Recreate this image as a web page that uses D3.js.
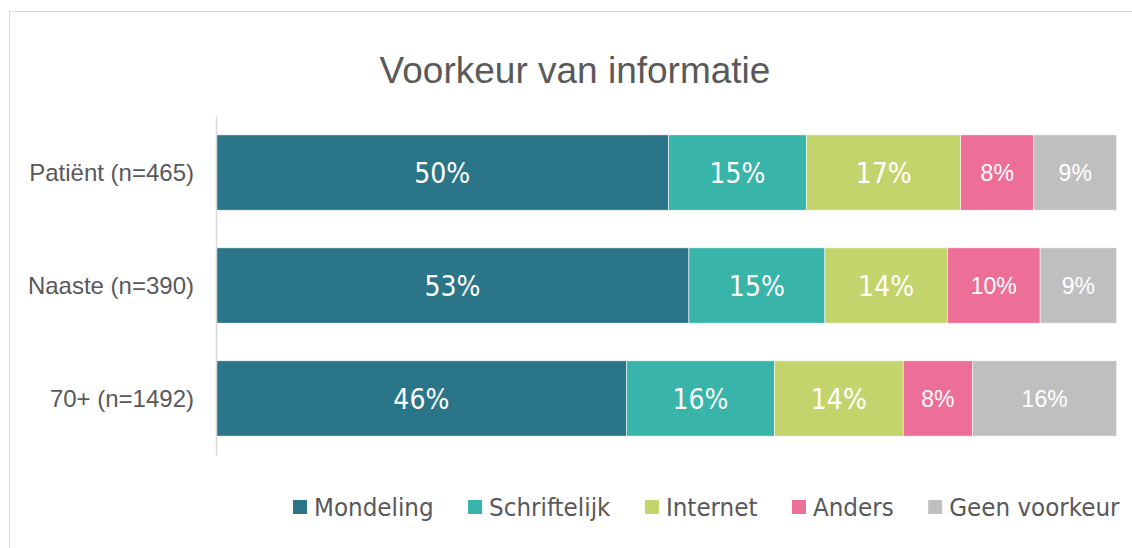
<!DOCTYPE html>
<html>
<head>
<meta charset="utf-8">
<script src="https://cdn.jsdelivr.net/npm/d3@7"></script>
<style>
  html, body { margin: 0; padding: 0; background: #fff; }
  svg { display: block; }
</style>
</head>
<body>
<div id="chart"></div>
<script>
// Data
const categories = ["Patiënt (n=465)", "Naaste (n=390)", "70+ (n=1492)"];
const seriesNames = ["Mondeling", "Schriftelijk", "Internet", "Anders", "Geen voorkeur"];
const mondeling = [50.2, 52.5, 45.6];
const schriftelijk = [15.3, 15.1, 16.4];
const internet = [17.1, 13.6, 14.3];
const anders = [8.1, 10.3, 7.7];
const geenVoorkeur = [9.2, 8.5, 16.0];
const title = "Voorkeur van informatie";

const seriesValues = [mondeling, schriftelijk, internet, anders, geenVoorkeur];
const COLORS = ["#2b7589", "#38b4a8", "#c4d46c", "#ed6e96", "#bfbfbf"];
const TEXT = "#595959";
const CANVAS = { width: 1132, height: 548 };
const PLOT = { left: 216, right: 1116.7, top: 116, bottom: 455 };
const CONDENSED = "'DejaVu Sans Condensed', 'DejaVu Sans', sans-serif";
const ARIAL = "'Liberation Sans', Arial, sans-serif";
// label styles per series (the last two use a smaller, plain face)
const LABEL_STYLE = [
    { font: CONDENSED, size: 28 },
    { font: CONDENSED, size: 28 },
    { font: CONDENSED, size: 28 },
    { font: ARIAL, size: 23 },
    { font: ARIAL, size: 23 }
];

const rows = categories.map((c, i) => {
    const row = { category: c };
    seriesNames.forEach((s, j) => (row[s] = seriesValues[j][i]));
    return row;
});

const stacked = d3.stack().keys(seriesNames).offset(d3.stackOffsetExpand)(rows);

const svg = d3.select("#chart").append("svg")
    .attr("width", CANVAS.width).attr("height", CANVAS.height)
    .attr("viewBox", [0, 0, CANVAS.width, CANVAS.height]);

// chart frame (runs off the picture on the right and bottom)
svg.append("rect")
    .attr("x", 9.5).attr("y", 11.5).attr("width", 1200).attr("height", 600)
    .attr("fill", "none").attr("stroke", "#d9d9d9").attr("stroke-width", 1);

svg.append("text")
    .attr("x", 575).attr("y", 83)
    .attr("text-anchor", "middle")
    .attr("font-family", ARIAL).attr("font-size", 37).attr("fill", TEXT)
    .text(title);

const x = d3.scaleLinear().domain([0, 1]).range([PLOT.left, PLOT.right]);
const y = d3.scaleBand().domain(categories).range([PLOT.top, PLOT.bottom])
    .paddingInner(0.333).paddingOuter(0.167);

const layers = svg.append("g").selectAll("g").data(stacked).join("g")
    .attr("fill", (d, i) => COLORS[i]);

layers.selectAll("rect").data(d => d).join("rect")
    .attr("x", d => x(d[0]))
    .attr("y", d => y(d.data.category))
    .attr("width", d => x(d[1]) - x(d[0]))
    .attr("height", y.bandwidth())
    .attr("stroke", "#ffffff").attr("stroke-width", 0.7).attr("stroke-opacity", 0.8);

layers.each(function (layer, i) {
    const st = LABEL_STYLE[i];
    d3.select(this).selectAll("text").data(layer).join("text")
        .attr("x", d => (x(d[0]) + x(d[1])) / 2)
        .attr("y", d => y(d.data.category) + y.bandwidth() / 2)
        .attr("dy", "0.36em")
        .attr("text-anchor", "middle")
        .attr("font-family", st.font).attr("font-size", st.size)
        .attr("fill", "#ffffff")
        .text(d => Math.round(d.data[layer.key]) + "%");
});

// category axis
const axis = svg.append("g")
    .attr("transform", `translate(${PLOT.left},0)`)
    .call(d3.axisLeft(y).tickSize(0).tickPadding(22));
axis.select(".domain").attr("stroke", "#d9d9d9").attr("stroke-width", 1.5);
axis.selectAll(".tick text")
    .attr("font-family", ARIAL).attr("font-size", 24).attr("fill", TEXT)
    .attr("dy", "0.36em");

// legend
const legend = svg.append("g").attr("transform", "translate(293,500)");
let lx = 0;
seriesNames.forEach((name, i) => {
    const item = legend.append("g").attr("transform", `translate(${lx},0)`);
    item.append("rect").attr("width", 14).attr("height", 14).attr("fill", COLORS[i]);
    const t = item.append("text")
        .attr("x", 21).attr("y", 7).attr("dy", "0.36em")
        .attr("font-family", CONDENSED).attr("font-size", 25.65).attr("fill", TEXT)
        .text(name);
    lx += 21 + t.node().getComputedTextLength() + 34.5;
});
</script>
</body>
</html>
